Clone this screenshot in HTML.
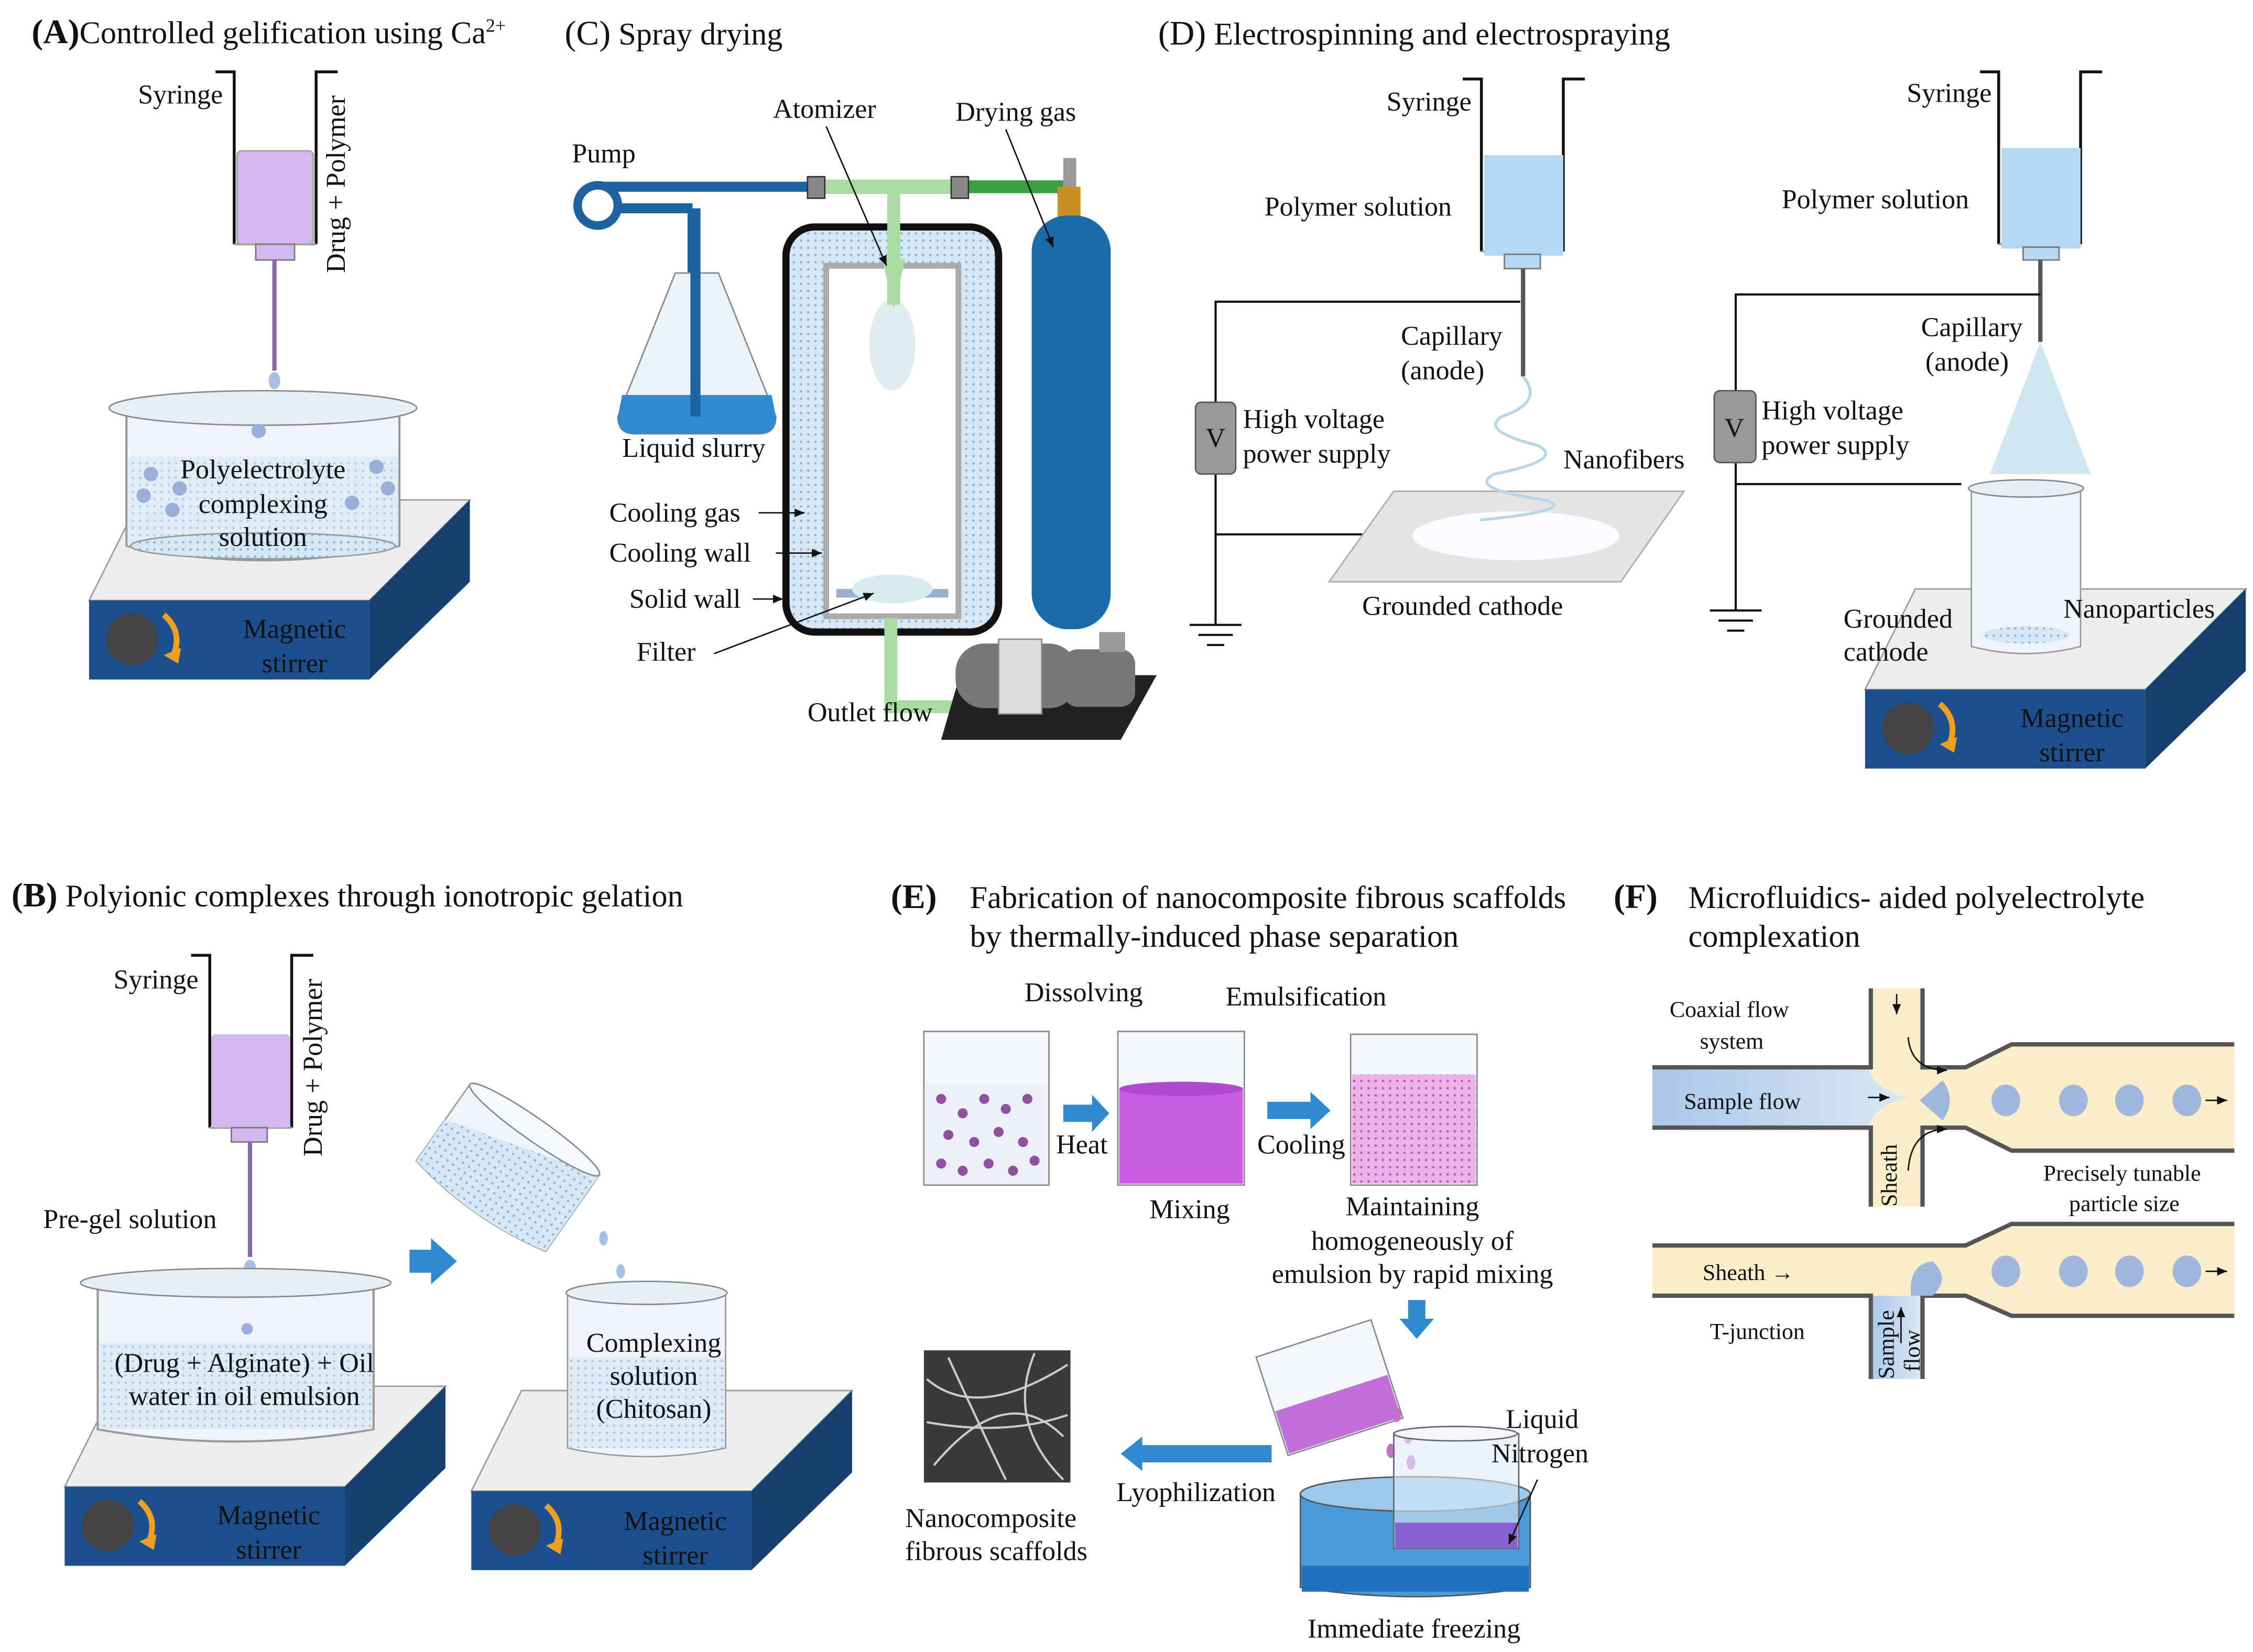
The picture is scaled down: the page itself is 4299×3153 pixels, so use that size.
<!DOCTYPE html>
<html><head><meta charset="utf-8"><style>
html,body{margin:0;padding:0;background:#fff}
svg{display:block}
text{font-family:"Liberation Serif",serif;fill:#111}
.t{font-size:22px}
.l{font-size:19px}
.f{font-size:16px}
</style></head><body>
<svg width="4299" height="3153" viewBox="0 0 1568 1150" xmlns="http://www.w3.org/2000/svg">
<defs>
<pattern id="dots" width="5" height="5" patternUnits="userSpaceOnUse"><rect width="5" height="5" fill="#d6e8f5"/><circle cx="2.5" cy="2.5" r="0.9" fill="#8fb6d8"/></pattern>
<pattern id="pdots" width="5" height="5" patternUnits="userSpaceOnUse"><rect width="5" height="5" fill="#eeb0e8"/><circle cx="2.5" cy="2.5" r="0.9" fill="#b860b0"/></pattern>
<linearGradient id="blu" x1="0" x2="1"><stop offset="0" stop-color="#a9c8e8"/><stop offset="1" stop-color="#dbe8f5"/></linearGradient>
<marker id="ar" markerWidth="8" markerHeight="8" refX="7" refY="4" orient="auto"><path d="M0,1 L7,4 L0,7 z" fill="#111"/></marker>
<g id="stir">
<polygon points="35,0 265,0 195,70 0,70" fill="#eceef0" stroke="#999"/>
<polygon points="0,70 195,70 195,125 0,125" fill="#1d4f8c"/>
<polygon points="195,70 265,0 265,57 195,125" fill="#16416f"/>
<circle cx="30" cy="97" r="18" fill="#444"/>
<path d="M52,80 Q66,92 58,110" stroke="#f0a020" stroke-width="4" fill="none"/>
<polygon points="52,108 62,114 64,103" fill="#f0a020"/>
</g>
<g id="syr">
<path d="M0,0 H13 V120 M70,120 V0 H85" stroke="#111" stroke-width="2" fill="none"/>
<path d="M13,120 H70" stroke="#999" stroke-width="1.5"/>
</g>
</defs>

<!-- (A) -->
<text x="22" y="30" class="t"><tspan font-weight="bold" font-size="24">(A)</tspan>Controlled gelification using Ca<tspan font-size="13" dy="-8">2+</tspan></text>
<use href="#syr" x="150" y="50"/>
<rect x="165" y="105" width="53" height="65" rx="3" fill="#d3b8f0" stroke="#9a8"/>
<rect x="178" y="170" width="27" height="11" fill="#d3b8f0" stroke="#777"/>
<line x1="191" y1="181" x2="191" y2="258" stroke="#8a6aa0" stroke-width="3"/>
<ellipse cx="191" cy="265" rx="4" ry="6" fill="#a8c0e0"/>
<text transform="translate(240,190) rotate(-90)" class="l">Drug + Polymer</text>
<text x="96" y="72" class="l">Syringe</text>
<use href="#stir" x="62" y="348"/>
<path d="M88,290 V380 Q183,400 278,380 V290" fill="#eef4fa" stroke="#999" stroke-width="1.5"/>
<rect x="89" y="318" width="188" height="62" fill="url(#dots)" opacity="0.6"/>
<ellipse cx="183" cy="284" rx="107" ry="12" fill="#e6eff8" stroke="#888"/>
<ellipse cx="183" cy="380" rx="92" ry="9" fill="url(#dots)" stroke="#999"/>
<g fill="#98b0d8"><circle cx="105" cy="330" r="5"/><circle cx="125" cy="340" r="5"/><circle cx="100" cy="345" r="5"/><circle cx="262" cy="325" r="5"/><circle cx="270" cy="340" r="5"/><circle cx="245" cy="350" r="5"/><circle cx="180" cy="300" r="5"/><circle cx="120" cy="355" r="5"/></g>
<text x="183" y="333" text-anchor="middle" class="l">Polyelectrolyte</text>
<text x="183" y="357" text-anchor="middle" class="l">complexing</text>
<text x="183" y="380" text-anchor="middle" class="l">solution</text>
<text x="205" y="444" text-anchor="middle" class="l" fill="#0c2a50">Magnetic</text>
<text x="205" y="468" text-anchor="middle" class="l" fill="#0c2a50">stirrer</text>

<!-- (C) -->
<text x="393" y="31" class="t"><tspan font-size="24">(C)</tspan> Spray drying</text>
<rect x="547" y="158" width="148" height="282" rx="20" fill="url(#dots)" stroke="#111" stroke-width="5"/>
<rect x="575" y="185" width="92" height="244" fill="#fff" stroke="#aaa" stroke-width="4"/>
<rect x="582" y="410" width="78" height="6" fill="#9aaed0"/>
<ellipse cx="621" cy="240" rx="16" ry="32" fill="#cfe6ea" opacity="0.7"/>
<ellipse cx="621" cy="410" rx="28" ry="10" fill="#d8ebef"/>
<path d="M418,130 H565 M482,145 H424 M482,145 V290" stroke="#1c63a0" stroke-width="7" fill="none"/>
<circle cx="416" cy="143" r="14" fill="#fff" stroke="#1c63a0" stroke-width="6"/>
<path d="M470,190 H500 L540,290 Q540,302 528,302 H442 Q430,302 430,290 Z" fill="#eaf3fa" stroke="#888"/>
<path d="M433,275 H537 L540,290 Q540,302 528,302 H442 Q430,302 430,290 Z" fill="#2f8ad0"/>
<line x1="484" y1="145" x2="484" y2="290" stroke="#1c63a0" stroke-width="7"/>
<path d="M570,130 H668" stroke="#a9dca0" stroke-width="10"/>
<path d="M622,130 V180 L622,212" stroke="#a9dca0" stroke-width="9"/>
<polygon points="614,180 630,180 622,215" fill="#a9dca0"/>
<path d="M672,130 H740" stroke="#3aa040" stroke-width="9"/>
<rect x="562" y="123" width="12" height="15" fill="#888" stroke="#333"/>
<rect x="662" y="123" width="12" height="15" fill="#888" stroke="#333"/>
<rect x="740" y="110" width="9" height="30" fill="#999"/>
<rect x="736" y="130" width="16" height="22" fill="#c89020"/>
<rect x="718" y="150" width="55" height="288" rx="25" fill="#1b6aaa"/>
<path d="M620,430 V492 H670" stroke="#a9dca0" stroke-width="9" fill="none"/>
<polygon points="668,470 805,470 780,515 655,515" fill="#222"/>
<rect x="665" y="448" width="85" height="45" rx="20" fill="#777"/>
<rect x="695" y="445" width="30" height="52" fill="#ddd" stroke="#888"/>
<rect x="740" y="452" width="50" height="40" rx="10" fill="#777"/>
<rect x="765" y="440" width="18" height="14" fill="#999"/>
<text x="398" y="113" class="l">Pump</text>
<text x="538" y="82" class="l">Atomizer</text>
<text x="665" y="84" class="l">Drying gas</text>
<text x="433" y="318" class="l">Liquid slurry</text>
<text x="424" y="363" class="l">Cooling gas</text>
<text x="424" y="391" class="l">Cooling wall</text>
<text x="438" y="423" class="l">Solid wall</text>
<text x="443" y="460" class="l">Filter</text>
<text x="562" y="502" class="l">Outlet flow</text>
<g stroke="#111" stroke-width="1" fill="none" marker-end="url(#ar)">
<line x1="575" y1="88" x2="617" y2="185"/><line x1="700" y1="90" x2="733" y2="172"/>
<line x1="528" y1="357" x2="560" y2="357"/><line x1="540" y1="385" x2="572" y2="385"/>
<line x1="524" y1="417" x2="545" y2="417"/><line x1="497" y1="455" x2="608" y2="413"/>
</g>

<!-- (D) -->
<text x="806" y="31" class="t"><tspan font-size="24">(D)</tspan> Electrospinning and electrospraying</text>
<use href="#syr" x="1018" y="55"/>
<rect x="1033" y="108" width="55" height="70" fill="#b4d8f2"/>
<rect x="1047" y="177" width="25" height="10" fill="#b4d8f2" stroke="#777"/>
<line x1="1060" y1="187" x2="1060" y2="262" stroke="#555" stroke-width="3"/>
<path d="M1058,210 H846 V280 M846,330 V435 M846,372 H948" stroke="#111" stroke-width="1.5" fill="none"/>
<rect x="832" y="280" width="28" height="50" rx="4" fill="#999" stroke="#555"/><text x="846" y="311" text-anchor="middle" class="l" fill="#fff">V</text>
<path d="M828,435 H864 M834,442 H858 M840,449 H852" stroke="#111" stroke-width="1.5"/>
<polygon points="970,342 1172,342 1128,405 925,405" fill="#e4e4e4" stroke="#aaa"/>
<ellipse cx="1055" cy="373" rx="72" ry="17" fill="#fafcff"/>
<path d="M1060,262 Q1075,280 1045,290 Q1030,300 1070,310 Q1090,320 1040,330 Q1020,340 1075,348 Q1100,355 1030,362" stroke="#b8d6ea" stroke-width="2" fill="none"/>
<text x="965" y="77" class="l">Syringe</text>
<text x="880" y="150" class="l">Polymer solution</text>
<text x="975" y="240" class="l">Capillary</text>
<text x="975" y="264" class="l">(anode)</text>
<text x="865" y="298" class="l">High voltage</text>
<text x="865" y="322" class="l">power supply</text>
<text x="1088" y="326" class="l">Nanofibers</text>
<text x="948" y="428" class="l">Grounded cathode</text>

<use href="#syr" x="1378" y="50"/>
<rect x="1393" y="103" width="55" height="70" fill="#b4d8f2"/>
<rect x="1408" y="172" width="25" height="9" fill="#b4d8f2" stroke="#777"/>
<line x1="1420" y1="181" x2="1420" y2="238" stroke="#555" stroke-width="3"/>
<polygon points="1420,238 1455,330 1385,330" fill="#cfe5f2"/>
<path d="M1420,205 H1208 V272 M1208,322 V425 M1208,337 H1365" stroke="#111" stroke-width="1.5" fill="none"/>
<rect x="1193" y="272" width="29" height="50" rx="4" fill="#999" stroke="#555"/><text x="1207" y="304" text-anchor="middle" class="l" fill="#fff">V</text>
<path d="M1190,425 H1226 M1196,432 H1220 M1202,439 H1214" stroke="#111" stroke-width="1.5"/>
<use href="#stir" x="1298" y="410"/>
<path d="M1372,340 V450 Q1410,460 1448,450 V340" fill="#eef4fa" stroke="#999"/>
<ellipse cx="1410" cy="340" rx="40" ry="6" fill="#e6eff8" stroke="#888"/>
<ellipse cx="1410" cy="442" rx="30" ry="6" fill="url(#dots)"/>
<text x="1327" y="71" class="l">Syringe</text>
<text x="1240" y="145" class="l">Polymer solution</text>
<text x="1337" y="234" class="l">Capillary</text>
<text x="1340" y="258" class="l">(anode)</text>
<text x="1226" y="292" class="l">High voltage</text>
<text x="1226" y="316" class="l">power supply</text>
<text x="1436" y="430" class="l">Nanoparticles</text>
<text x="1283" y="437" class="l">Grounded</text>
<text x="1283" y="460" class="l">cathode</text>
<text x="1442" y="506" text-anchor="middle" class="l" fill="#0c2a50">Magnetic</text>
<text x="1442" y="530" text-anchor="middle" class="l" fill="#0c2a50">stirrer</text>

<!-- (B) -->
<text x="8" y="631" class="t"><tspan font-weight="bold" font-size="24">(B)</tspan> Polyionic complexes through ionotropic gelation</text>
<use href="#syr" x="133" y="665"/>
<rect x="147" y="720" width="55" height="65" rx="3" fill="#d3b8f0"/>
<rect x="161" y="785" width="25" height="10" fill="#d3b8f0" stroke="#777"/>
<line x1="174" y1="795" x2="174" y2="875" stroke="#8a6aa0" stroke-width="3"/>
<ellipse cx="174" cy="882" rx="4" ry="5" fill="#a8c0e0"/>
<text transform="translate(224,805) rotate(-90)" class="l">Drug + Polymer</text>
<text x="79" y="688" class="l">Syringe</text>
<text x="30" y="855" class="l">Pre-gel solution</text>
<use href="#stir" x="45" y="965"/>
<path d="M68,897 V995 Q163,1012 260,995 V897" fill="#eef4fa" stroke="#999" stroke-width="1.5"/>
<rect x="69" y="935" width="190" height="60" fill="url(#dots)" opacity="0.7"/>
<ellipse cx="164" cy="893" rx="108" ry="10" fill="#e6eff8" stroke="#888"/>
<circle cx="172" cy="925" r="4" fill="#98b0d8"/>
<text x="170" y="955" text-anchor="middle" class="l">(Drug + Alginate) + Oil</text>
<text x="170" y="978" text-anchor="middle" class="l">water in oil emulsion</text>
<text x="187" y="1061" text-anchor="middle" class="l" fill="#0c2a50">Magnetic</text>
<text x="187" y="1085" text-anchor="middle" class="l" fill="#0c2a50">stirrer</text>
<polygon points="285,870 300,870 300,862 318,878 300,894 300,886 285,886" fill="#2f8ad0"/>
<g transform="translate(352,815) rotate(35)">
<path d="M-55,-35 V30 Q0,42 55,30 V-35 Z" fill="#eef4fa" stroke="#999"/>
<path d="M-55,-5 V30 Q0,42 55,30 V-35 Z" fill="url(#dots)"/>
<ellipse cx="0" cy="-35" rx="55" ry="8" fill="#f5f9fc" stroke="#888"/>
</g>
<g fill="#a8c0e0"><ellipse cx="420" cy="862" rx="3" ry="5"/><ellipse cx="432" cy="885" rx="3" ry="5"/><ellipse cx="418" cy="898" rx="3" ry="5"/><ellipse cx="450" cy="902" rx="3" ry="5"/><ellipse cx="438" cy="918" rx="3" ry="5"/></g>
<use href="#stir" x="328" y="968"/>
<path d="M395,900 V1008 Q450,1020 505,1008 V900" fill="#eef4fa" stroke="#999"/>
<rect x="396" y="945" width="108" height="63" fill="url(#dots)" opacity="0.7"/>
<ellipse cx="450" cy="900" rx="56" ry="8" fill="#e6eff8" stroke="#888"/>
<text x="455" y="941" text-anchor="middle" class="l">Complexing</text>
<text x="455" y="964" text-anchor="middle" class="l">solution</text>
<text x="455" y="987" text-anchor="middle" class="l">(Chitosan)</text>
<text x="470" y="1065" text-anchor="middle" class="l" fill="#0c2a50">Magnetic</text>
<text x="470" y="1089" text-anchor="middle" class="l" fill="#0c2a50">stirrer</text>

<!-- (E) -->
<text x="620" y="632" class="t"><tspan font-weight="bold" font-size="24">(E)</tspan></text>
<text x="675" y="632" class="t">Fabrication of nanocomposite fibrous scaffolds</text>
<text x="675" y="659" class="t">by thermally-induced phase separation</text>
<text x="713" y="697" class="l">Dissolving</text>
<text x="853" y="700" class="l">Emulsification</text>
<rect x="643" y="718" width="87" height="107" fill="#f3f7fb" stroke="#888"/>
<rect x="644" y="755" width="85" height="69" fill="#eef0f8"/>
<g fill="#9050a0"><circle cx="655" cy="765" r="3.5"/><circle cx="670" cy="775" r="3.5"/><circle cx="685" cy="765" r="3.5"/><circle cx="700" cy="772" r="3.5"/><circle cx="715" cy="765" r="3.5"/><circle cx="660" cy="790" r="3.5"/><circle cx="678" cy="795" r="3.5"/><circle cx="695" cy="788" r="3.5"/><circle cx="712" cy="795" r="3.5"/><circle cx="655" cy="810" r="3.5"/><circle cx="670" cy="815" r="3.5"/><circle cx="688" cy="810" r="3.5"/><circle cx="705" cy="815" r="3.5"/><circle cx="720" cy="808" r="3.5"/></g>
<polygon points="740,769 760,769 760,762 772,775 760,788 760,781 740,781" fill="#2f8ad0"/>
<text x="735" y="803" class="l">Heat</text>
<rect x="778" y="718" width="88" height="107" fill="#f3f7fb" stroke="#888"/>
<rect x="779" y="758" width="86" height="66" fill="#c85ee0"/>
<ellipse cx="822" cy="758" rx="43" ry="5" fill="#b048d0"/>
<text x="800" y="848" class="l">Mixing</text>
<polygon points="882,767 912,767 912,760 926,773 912,786 912,779 882,779" fill="#2f8ad0"/>
<text x="875" y="803" class="l">Cooling</text>
<rect x="940" y="720" width="88" height="105" fill="#f3f7fb" stroke="#888"/>
<rect x="941" y="748" width="86" height="76" fill="url(#pdots)"/>
<text x="983" y="846" text-anchor="middle" class="l">Maintaining</text>
<text x="983" y="870" text-anchor="middle" class="l">homogeneously of</text>
<text x="983" y="893" text-anchor="middle" class="l">emulsion by rapid mixing</text>
<polygon points="980,905 992,905 992,918 998,918 986,932 974,918 980,918" fill="#2f8ad0"/>
<g transform="translate(925,965) rotate(-18)">
<rect x="-42" y="-35" width="84" height="72" fill="#f3f7fb" stroke="#888"/>
<rect x="-41" y="5" width="82" height="31" fill="#c070d8"/>
</g>
<g fill="#c070c8"><ellipse cx="972" cy="985" rx="3" ry="5"/><ellipse cx="980" cy="1000" rx="3" ry="5"/><ellipse cx="968" cy="1010" rx="3" ry="5"/><ellipse cx="982" cy="1018" rx="3" ry="5"/></g>
<path d="M905,1040 V1105 Q985,1118 1065,1105 V1040" fill="#4a9ad8" stroke="#555"/>
<ellipse cx="985" cy="1040" rx="80" ry="12" fill="#9cc8ec" stroke="#555"/>
<rect x="906" y="1090" width="158" height="18" fill="#1f72c0"/>
<rect x="970" y="998" width="87" height="80" fill="#dfeaf5" fill-opacity="0.6" stroke="#666"/>
<rect x="971" y="1060" width="85" height="18" fill="#8860d0"/>
<ellipse cx="1013" cy="998" rx="43" ry="5" fill="#f3f7fb" stroke="#666"/>
<text x="1048" y="994" class="l">Liquid</text>
<text x="1038" y="1018" class="l">Nitrogen</text>
<line x1="1070" y1="1030" x2="1050" y2="1075" stroke="#111" marker-end="url(#ar)"/>
<text x="910" y="1140" class="l">Immediate freezing</text>
<polygon points="885,1006 795,1006 795,1000 780,1012 795,1024 795,1018 885,1018" fill="#2f8ad0"/>
<text x="777" y="1045" class="l">Lyophilization</text>
<rect x="643" y="940" width="102" height="92" fill="#3a3a3a"/>
<path d="M645,960 Q680,990 743,950 M650,1020 Q700,960 740,1000 M660,945 Q690,1010 700,1030 M645,990 Q700,1000 743,985 M720,942 Q700,990 740,1030" stroke="#ccc" stroke-width="1.5" fill="none"/>
<text x="630" y="1063" class="l">Nanocomposite</text>
<text x="630" y="1086" class="l">fibrous scaffolds</text>

<!-- (F) -->
<text x="1123" y="632" class="t"><tspan font-weight="bold" font-size="24">(F)</tspan></text>
<text x="1175" y="632" class="t">Microfluidics- aided polyelectrolyte</text>
<text x="1175" y="659" class="t">complexation</text>
<path d="M1150,743 H1302 V688 H1338 V743 H1368 L1400,727 H1555 V801 H1400 L1368,785 H1338 V840 H1302 V785 H1150 Z" fill="#fbeec8"/>
<path d="M1150,743 H1300 Q1305,760 1330,764 Q1305,768 1300,785 H1150 Z" fill="url(#blu)"/>
<path d="M1150,743 H1302 V688 M1338,688 V743 H1368 L1400,727 H1555 M1150,785 H1302 V840 M1338,840 V785 H1368 L1400,801 H1555" stroke="#555" stroke-width="3" fill="none"/>
<g fill="#9fb8dc"><path d="M1336,766 L1352,752 Q1362,766 1352,780 Z"/><ellipse cx="1396" cy="766" rx="10" ry="11"/><ellipse cx="1443" cy="766" rx="10" ry="11"/><ellipse cx="1482" cy="766" rx="10" ry="11"/><ellipse cx="1522" cy="766" rx="10" ry="11"/></g>
<text x="1162" y="708" class="f">Coaxial flow</text>
<text x="1183" y="730" class="f">system</text>
<text x="1172" y="772" class="f">Sample flow</text>
<text transform="translate(1320,840) rotate(-90)" class="f">Sheath</text>
<text x="1422" y="822" class="f">Precisely tunable</text>
<text x="1440" y="843" class="f">particle size</text>
<path d="M1150,867 H1368 L1400,852 H1555 V916 H1400 L1368,902 H1338 V960 H1302 V902 H1150 Z" fill="#fbeec8"/>
<rect x="1302" y="902" width="36" height="58" fill="url(#blu)"/>
<path d="M1150,867 H1368 L1400,852 H1555 M1150,902 H1302 V960 M1338,960 V902 H1368 L1400,916 H1555" stroke="#555" stroke-width="3" fill="none"/>
<g fill="#9fb8dc"><path d="M1330,902 Q1328,880 1345,878 Q1358,890 1345,902 Z"/><ellipse cx="1396" cy="885" rx="10" ry="11"/><ellipse cx="1443" cy="885" rx="10" ry="11"/><ellipse cx="1482" cy="885" rx="10" ry="11"/><ellipse cx="1522" cy="885" rx="10" ry="11"/></g>
<text x="1185" y="891" class="f">Sheath →</text>
<text x="1190" y="932" class="f">T-junction</text>
<text transform="translate(1318,960) rotate(-90)" class="f">Sample</text>
<text transform="translate(1336,955) rotate(-90)" class="f">flow</text>
<g stroke="#111" stroke-width="1" fill="none" marker-end="url(#ar)">
<line x1="1320" y1="692" x2="1320" y2="706"/><line x1="1300" y1="764" x2="1315" y2="764"/>
<path d="M1328,722 Q1330,745 1355,745"/><path d="M1328,815 Q1330,786 1355,786"/>
<line x1="1535" y1="766" x2="1550" y2="766"/><line x1="1535" y1="885" x2="1550" y2="885"/>
<line x1="1323" y1="935" x2="1323" y2="910"/>
</g>
</svg>
</body></html>
